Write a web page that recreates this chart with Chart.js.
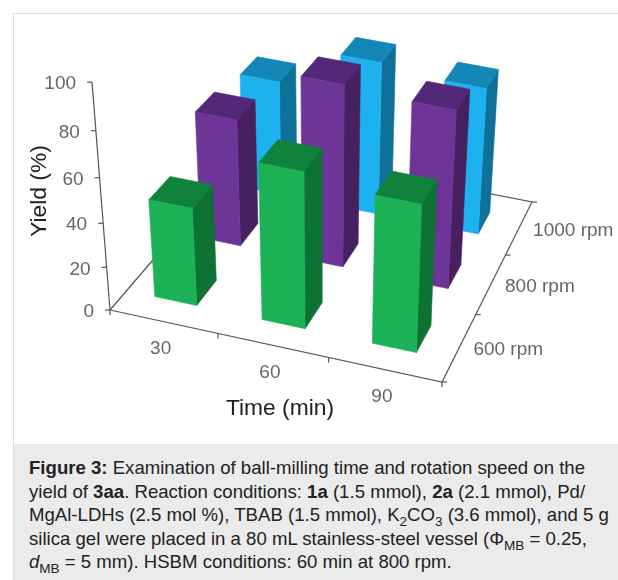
<!DOCTYPE html>
<html>
<head>
<meta charset="utf-8">
<title>Figure 3</title>
<script src="https://cdn.jsdelivr.net/npm/chart.js@4"></script>
<style>
  html, body { margin: 0; padding: 0; background: #fff; }
  #page { position: relative; width: 618px; height: 580px; overflow: hidden; font-family: "Liberation Sans", Arial, sans-serif; }
  #frame { position: absolute; left: 13px; top: 13px; width: 620px; height: 600px; border-left: 1px solid #dedede; border-top: 1px solid #dedede; }
  #plot { position: absolute; left: 0; top: 0; }
  #caption { position: absolute; left: 14px; top: 444px; width: 604px; height: 136px; background: #ebebeb; }
  #caption p { position: absolute; left: 15px; top: 12px; margin: 0; width: 600px; font-size: 18.6px; line-height: 23.5px; color: #222; white-space: nowrap; }
  sub { font-size: 13.5px; line-height: 0; }
</style>
</head>
<body>
<div id="page">
  <div id="frame"></div>
  <canvas id="plot" width="618" height="444"></canvas>
  <div id="caption">
    <p><b>Figure 3:</b> Examination of ball-milling time and rotation speed on the<br>
    yield of <b>3aa</b>. Reaction conditions: <b>1a</b> (1.5 mmol), <b>2a</b> (2.1 mmol), Pd/<br>
    MgAl-LDHs (2.5 mol %), TBAB (1.5 mmol), K<sub>2</sub>CO<sub>3</sub> (3.6 mmol), and 5 g<br>
    silica gel were placed in a 80 mL stainless-steel vessel (Φ<sub>MB</sub> = 0.25,<br>
    <i>d</i><sub>MB</sub> = 5 mm). HSBM conditions: 60 min at 800 rpm.</p>
  </div>
</div>
<script>
// Dữ liệu
const times = ["30", "60", "90"]
const speeds = ["600 rpm", "800 rpm", "1000 rpm"]
const yieldTicks = [0, 20, 40, 60, 80, 100]
const yield600 = [45, 71, 67]
const yield800 = [60, 85, 83]
const yield1000 = [56, 74, 71]

// Màu: mặt trước, mặt trên, mặt bên
const green = ["#1cb155", "#10823c", "#0d7233"]
const purple = ["#6d3598", "#542878", "#472060"]
const blue = ["#1eb1f0", "#1287b8", "#0f7199"]

const rows = [
  { values: yield1000, colors: blue },
  { values: yield800, colors: purple },
  { values: yield600, colors: green },
]

const W = 618
const H = 444

// Chiếu phối cảnh: sàn (u, v) từ 0 đến 1, chiều cao là giá trị yield
const floorCorners = [[110, 310], [442, 382], [532, 202], [250, 147]]
const vanish = [322, 3000]
const heightScale = -0.000781

function makeFloor(p) {
  const [[x0, y0], [x1, y1], [x2, y2], [x3, y3]] = p
  const dx1 = x1 - x2, dx2 = x3 - x2, sx = x0 - x1 + x2 - x3
  const dy1 = y1 - y2, dy2 = y3 - y2, sy = y0 - y1 + y2 - y3
  const det = dx1 * dy2 - dx2 * dy1
  const g = (sx * dy2 - dx2 * sy) / det
  const h = (dx1 * sy - sx * dy1) / det
  return { a: x1 - x0 + g * x1, b: x3 - x0 + h * x3, c: x0, d: y1 - y0 + g * y1, e: y3 - y0 + h * y3, f: y0, g, h }
}
const fl = makeFloor(floorCorners)

function project(u, v, val) {
  const k = val * heightScale
  const w = fl.g * u + fl.h * v + 1 + k
  return {
    x: (fl.a * u + fl.b * v + fl.c + k * vanish[0]) / w,
    y: (fl.d * u + fl.e * v + fl.f + k * vanish[1]) / w,
  }
}

// Kích thước cột trong mỗi ô
const barU = 0.132
const barV = 0.135
const centerU = [0.147, 0.482, 0.818]
const centerV = [0.17, 0.5, 0.82]
// Lệch ngang của từng hàng (600, 800, 1000 rpm)
const rowShift = [0.008, 0, 0.002]

function polygon(points, color) {
  return {
    type: "line",
    data: [...points, points[0]],
    backgroundColor: color,
    borderColor: color,
    borderWidth: 0.6,
    fill: "shape",
    pointRadius: 0,
    tension: 0,
  }
}

function axisLine(points) {
  return {
    type: "line",
    data: points,
    borderColor: "#555",
    borderWidth: 1.2,
    fill: false,
    pointRadius: 0,
    tension: 0,
  }
}

// Tạo các dataset, thứ tự vẽ từ sau ra trước
function buildDatasets() {
  const sets = []
  let n = 0
  const add = (d) => { d.order = -n++; sets.push(d) }

  // Trục và khung sàn
  const tick = 5
  add(axisLine([project(0, 0, 0), project(0, 0, 100)]))
  yieldTicks.forEach((t) => {
    const p = project(0, 0, t)
    add(axisLine([p, { x: p.x - tick, y: p.y }]))
  })
  add(axisLine([project(0, 0, 0), project(1, 0, 0), project(1, 1, 0), project(0, 1, 0), project(0, 0, 0)]))
  for (let i = 0; i <= times.length; i++) {
    const p = project(i / times.length, 0, 0)
    add(axisLine([p, { x: p.x, y: p.y + tick }]))
  }
  for (let j = 0; j <= speeds.length; j++) {
    const p = project(1, j / speeds.length, 0)
    add(axisLine([p, { x: p.x + tick, y: p.y }]))
  }

  // Các cột, hàng sau vẽ trước
  rows.forEach((row, r) => {
    const j = speeds.length - 1 - r
    row.values.forEach((val, i) => {
      const u0 = centerU[i] + rowShift[j] - barU / 2, u1 = u0 + barU
      const v0 = centerV[j] - barV / 2, v1 = centerV[j] + barV / 2
      add(polygon([project(u1, v0, 0), project(u1, v1, 0), project(u1, v1, val), project(u1, v0, val)], row.colors[2]))
      add(polygon([project(u0, v0, val), project(u1, v0, val), project(u1, v1, val), project(u0, v1, val)], row.colors[1]))
      add(polygon([project(u0, v0, 0), project(u1, v0, 0), project(u1, v0, val), project(u0, v0, val)], row.colors[0]))
    })
  })
  return sets
}

// Nhãn trục
const axisLabels = {
  id: "axisLabels",
  afterDatasetsDraw(chart) {
    const ctx = chart.ctx
    const sx = chart.scales.x
    const sy = chart.scales.y
    const put = (text, p, dx, dy, align) => {
      ctx.textAlign = align
      ctx.fillText(text, sx.getPixelForValue(p.x) + dx, sy.getPixelForValue(p.y) + dy)
    }
    ctx.save()
    ctx.textBaseline = "middle"
    ctx.font = '19px "Liberation Sans", Arial, sans-serif'
    ctx.fillStyle = "#666"
    yieldTicks.forEach((t) => put(String(t), project(0, 0, t), -16, 2, "right"))
    times.forEach((t, i) => put(t, project((i + 0.5) / times.length, 0, 0), -3, 27, "center"))
    speeds.forEach((t, j) => put(t, project(1, (j + 0.5) / speeds.length, 0), 14, 3, "left"))

    ctx.font = '22.8px "Liberation Sans", Arial, sans-serif'
    ctx.fillStyle = "#222"
    ctx.textAlign = "center"
    ctx.fillText("Time (min)", 280, 409)
    ctx.translate(40, 191)
    ctx.rotate(-Math.PI / 2)
    ctx.fillText("Yield (%)", 0, 0)
    ctx.restore()
  },
}

new Chart(document.getElementById("plot"), {
  type: "scatter",
  data: { datasets: buildDatasets() },
  options: {
    responsive: false,
    animation: false,
    parsing: false,
    normalized: false,
    clip: false,
    layout: { padding: 0 },
    plugins: { legend: { display: false }, tooltip: { enabled: false } },
    scales: {
      x: { type: "linear", min: 0, max: W, display: false },
      y: { type: "linear", min: 0, max: H, reverse: true, display: false },
    },
  },
  plugins: [axisLabels],
})
</script>
</body>
</html>
